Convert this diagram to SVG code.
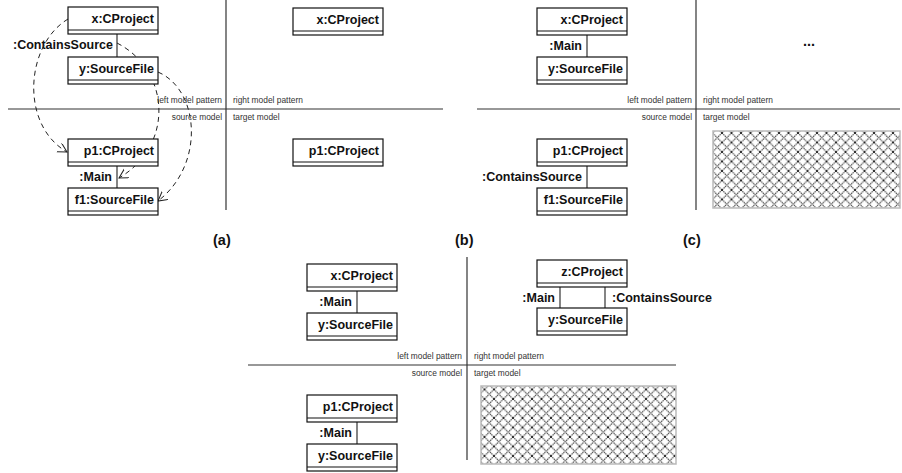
<svg xmlns="http://www.w3.org/2000/svg" width="902" height="473" viewBox="0 0 902 473">
<style>
.box{fill:#fff;stroke:#111;stroke-width:1.2}
.sep{stroke:#111;stroke-width:1.2}
.name{font-family:"Liberation Sans",Arial,sans-serif;font-weight:bold;font-size:12.5px;fill:#111;text-anchor:end}
.lbl{font-family:"Liberation Sans",Arial,sans-serif;font-weight:bold;font-size:12.5px;fill:#111}
.div{stroke:#333;stroke-width:1.2}
.sm{font-family:"Liberation Sans",Arial,sans-serif;font-size:8.4px;fill:#333}
.cap{font-family:"Liberation Sans",Arial,sans-serif;font-weight:bold;font-size:14.5px;fill:#111}
.link{stroke:#333;stroke-width:1.2}
.dash{fill:none;stroke:#222;stroke-width:1;stroke-dasharray:5,4}
.hatch{fill:url(#hatch);stroke:#bbb;stroke-width:1.5}
</style>
<defs>
<pattern id="hatch" width="9.5" height="9.5" patternUnits="userSpaceOnUse">
<path d="M0,0 L9.5,9.5 M9.5,0 L0,9.5" stroke="#111" stroke-width="1" stroke-dasharray="1.2,0.8" fill="none"/>
</pattern>
<marker id="open" markerUnits="userSpaceOnUse" markerWidth="12" markerHeight="12" refX="9" refY="5" orient="auto">
<path d="M0,0 L9,5 L0,10" fill="none" stroke="#222" stroke-width="1"/>
</marker>
</defs>

<!-- dividers and region labels -->
<g id="dividers">
<line class="div" x1="226" y1="0" x2="226" y2="210"/>
<line class="div" x1="8" y1="109" x2="443" y2="109"/>
<line class="div" x1="696" y1="0" x2="696" y2="210"/>
<line class="div" x1="477" y1="109" x2="900" y2="109"/>
<line class="div" x1="467" y1="257" x2="467" y2="460"/>
<line class="div" x1="248" y1="365" x2="676" y2="365"/>
<text class="sm" x="222" y="103" text-anchor="end">left model pattern</text>
<text class="sm" x="222" y="120" text-anchor="end">source model</text>
<text class="sm" x="233" y="103">right model pattern</text>
<text class="sm" x="233" y="120">target model</text>
<text class="sm" x="692" y="103" text-anchor="end">left model pattern</text>
<text class="sm" x="692" y="120" text-anchor="end">source model</text>
<text class="sm" x="703" y="103">right model pattern</text>
<text class="sm" x="703" y="120">target model</text>
<text class="sm" x="462" y="359" text-anchor="end">left model pattern</text>
<text class="sm" x="462" y="376" text-anchor="end">source model</text>
<text class="sm" x="474" y="359">right model pattern</text>
<text class="sm" x="474" y="376">target model</text>
</g>

<g id="captions">
<text class="cap" x="213" y="245">(a)</text>
<text class="cap" x="455" y="245">(b)</text>
<text class="cap" x="683" y="245">(c)</text>
<text class="cap" x="809" y="46" text-anchor="middle" font-size="16">...</text>
</g>

<g id="hatched-areas">
<rect class="hatch" x="713" y="131" width="187" height="77"/>
<rect class="hatch" x="481" y="386" width="195" height="78"/>
</g>

<!-- connectors -->
<g id="connectors">
<line class="link" x1="117" y1="34" x2="117" y2="57"/>
<text class="lbl" x="113" y="49" text-anchor="end">:ContainsSource</text>
<line class="link" x1="117" y1="166" x2="117" y2="188"/>
<text class="lbl" x="112" y="181" text-anchor="end">:Main</text>
<path class="dash" d="M68,19 C25,45 20,125 67,152" marker-end="url(#open)"/>
<path class="dash" d="M117,43 C170,70 175,145 119,178" marker-end="url(#open)"/>
<path class="dash" d="M158,72 C200,90 205,165 158,201" marker-end="url(#open)"/>

<line class="link" x1="587" y1="35" x2="587" y2="57"/>
<text class="lbl" x="582" y="50" text-anchor="end">:Main</text>
<line class="link" x1="587" y1="166" x2="587" y2="188"/>
<text class="lbl" x="582" y="181" text-anchor="end">:ContainsSource</text>

<line class="link" x1="357" y1="291" x2="357" y2="313"/>
<text class="lbl" x="352" y="306" text-anchor="end">:Main</text>
<line class="link" x1="357" y1="422" x2="357" y2="444"/>
<text class="lbl" x="352" y="437" text-anchor="end">:Main</text>
<line class="link" x1="560" y1="287" x2="560" y2="308"/>
<line class="link" x1="605" y1="287" x2="605" y2="308"/>
<text class="lbl" x="555" y="302" text-anchor="end">:Main</text>
<text class="lbl" x="612" y="302">:ContainsSource</text>
</g>

<!-- panel (a) nodes -->
<g id="a_x"><rect class="box" x="68" y="7" width="90" height="27"/><line class="sep" x1="68" y1="30" x2="158" y2="30"/><text class="name" x="154" y="23">x:CProject</text></g>
<g id="a_y"><rect class="box" x="68" y="57" width="90" height="27"/><line class="sep" x1="68" y1="80" x2="158" y2="80"/><text class="name" x="154" y="73">y:SourceFile</text></g>
<g id="a_p1"><rect class="box" x="68" y="139" width="90" height="27"/><line class="sep" x1="68" y1="162" x2="158" y2="162"/><text class="name" x="154" y="155">p1:CProject</text></g>
<g id="a_f1"><rect class="box" x="68" y="188" width="90" height="27"/><line class="sep" x1="68" y1="211" x2="158" y2="211"/><text class="name" x="154" y="204">f1:SourceFile</text></g>
<g id="a_rx"><rect class="box" x="293" y="8" width="90" height="27"/><line class="sep" x1="293" y1="31" x2="383" y2="31"/><text class="name" x="379" y="24">x:CProject</text></g>
<g id="a_rp1"><rect class="box" x="293" y="139" width="90" height="27"/><line class="sep" x1="293" y1="162" x2="383" y2="162"/><text class="name" x="379" y="155">p1:CProject</text></g>

<!-- panel (c) nodes -->
<g id="c_x"><rect class="box" x="537" y="8" width="90" height="27"/><line class="sep" x1="537" y1="31" x2="627" y2="31"/><text class="name" x="623" y="24">x:CProject</text></g>
<g id="c_y"><rect class="box" x="537" y="57" width="90" height="27"/><line class="sep" x1="537" y1="80" x2="627" y2="80"/><text class="name" x="623" y="73">y:SourceFile</text></g>
<g id="c_p1"><rect class="box" x="537" y="139" width="90" height="27"/><line class="sep" x1="537" y1="162" x2="627" y2="162"/><text class="name" x="623" y="155">p1:CProject</text></g>
<g id="c_f1"><rect class="box" x="537" y="188" width="90" height="27"/><line class="sep" x1="537" y1="211" x2="627" y2="211"/><text class="name" x="623" y="204">f1:SourceFile</text></g>

<!-- bottom panel nodes -->
<g id="d_x"><rect class="box" x="307" y="264" width="90" height="27"/><line class="sep" x1="307" y1="287" x2="397" y2="287"/><text class="name" x="393" y="280">x:CProject</text></g>
<g id="d_y"><rect class="box" x="307" y="313" width="90" height="27"/><line class="sep" x1="307" y1="336" x2="397" y2="336"/><text class="name" x="393" y="329">y:SourceFile</text></g>
<g id="d_p1"><rect class="box" x="307" y="395" width="90" height="27"/><line class="sep" x1="307" y1="418" x2="397" y2="418"/><text class="name" x="393" y="411">p1:CProject</text></g>
<g id="d_y2"><rect class="box" x="307" y="444" width="90" height="27"/><line class="sep" x1="307" y1="467" x2="397" y2="467"/><text class="name" x="393" y="460">y:SourceFile</text></g>
<g id="d_z"><rect class="box" x="537" y="260" width="90" height="27"/><line class="sep" x1="537" y1="283" x2="627" y2="283"/><text class="name" x="623" y="276">z:CProject</text></g>
<g id="d_zy"><rect class="box" x="537" y="308" width="90" height="27"/><line class="sep" x1="537" y1="331" x2="627" y2="331"/><text class="name" x="623" y="324">y:SourceFile</text></g>
</svg>
